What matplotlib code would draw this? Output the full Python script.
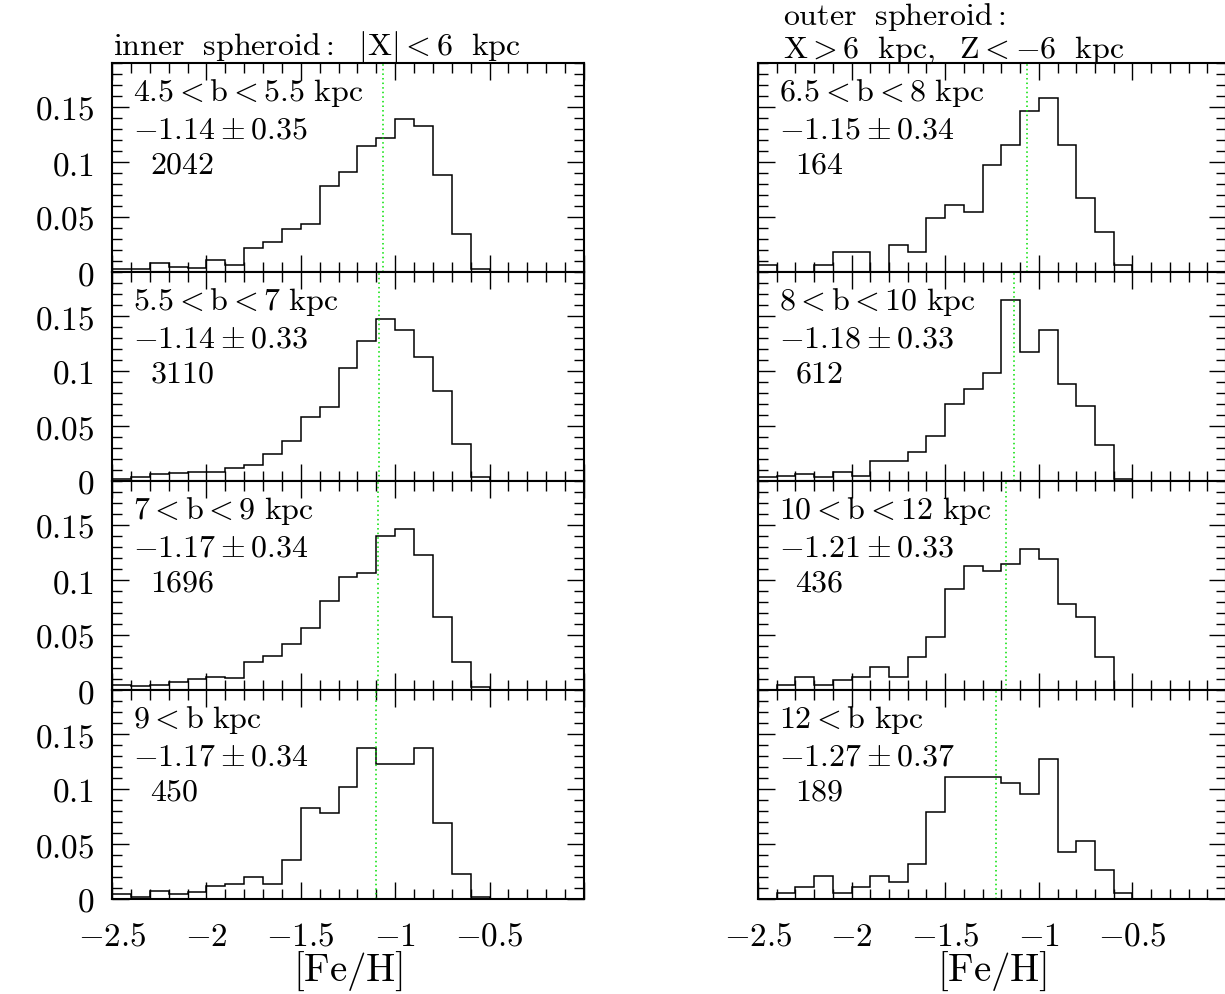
import numpy as np
import matplotlib
matplotlib.use("Agg")
import matplotlib.pyplot as plt
from matplotlib.ticker import MultipleLocator

plt.rcParams['mathtext.fontset'] = 'cm'

# ---------------- data ----------------
bin_edges = np.round(np.arange(-2.5, 0.001, 0.1), 1)   # 25 bins of 0.1 dex

# inner spheroid |X|<6 kpc (fraction of stars per 0.1 dex bin)
inner_b45_55 = [0.003, 0.003, 0.008, 0.005, 0.004, 0.011, 0.006, 0.022, 0.027, 0.039,
                0.044, 0.078, 0.091, 0.115, 0.122, 0.139, 0.133, 0.088, 0.035, 0.003,
                0, 0, 0, 0, 0]
inner_b55_7 = [0.002, 0.004, 0.006, 0.007, 0.008, 0.0085, 0.0115, 0.015, 0.025, 0.036,
               0.058, 0.067, 0.103, 0.127, 0.147, 0.137, 0.113, 0.0815, 0.0336, 0.004,
               0, 0, 0, 0, 0]
inner_b7_9 = [0.005, 0.0033, 0.005, 0.007, 0.0097, 0.0118, 0.011, 0.0255, 0.0312, 0.042,
              0.0567, 0.081, 0.103, 0.106, 0.140, 0.146, 0.1224, 0.066, 0.0258, 0.0024,
              0, 0, 0, 0, 0]
inner_b9 = [0.0045, 0.002, 0.007, 0.0045, 0.0067, 0.0115, 0.0136, 0.0197, 0.0136, 0.0355,
            0.0824, 0.0779, 0.102, 0.1376, 0.1224, 0.1224, 0.1376, 0.0688, 0.0227, 0.002,
            0, 0, 0, 0, 0]

# outer spheroid X>6 kpc, Z<-6 kpc
outer_b65_8 = [0.0061, 0, 0, 0.0061, 0.0183, 0.0183, 0, 0.0244, 0.0183, 0.0488,
               0.0610, 0.0549, 0.0976, 0.1159, 0.1463, 0.1585, 0.1159, 0.0671, 0.0366, 0.0061,
               0, 0, 0, 0, 0]
outer_b8_10 = [0.0033, 0.0049, 0.0065, 0.0033, 0.0082, 0.0049, 0.018, 0.018, 0.0261, 0.0408,
               0.0703, 0.0833, 0.098, 0.165, 0.1176, 0.1373, 0.0882, 0.0686, 0.0327, 0.0016,
               0, 0, 0, 0, 0]
outer_b10_12 = [0, 0.0046, 0.0115, 0.0046, 0.0092, 0.0115, 0.0206, 0.0115, 0.0298, 0.0482,
                0.0917, 0.1124, 0.1078, 0.1147, 0.1284, 0.1193, 0.078, 0.0665, 0.0298, 0,
                0, 0, 0, 0, 0]
outer_b12 = [0, 0.0053, 0.0106, 0.0212, 0.0053, 0.0106, 0.0212, 0.0159, 0.0317, 0.0794,
             0.1111, 0.1111, 0.1111, 0.1058, 0.0952, 0.127, 0.0423, 0.0529, 0.0265, 0.0053,
             0, 0, 0, 0, 0]

inner_series = [inner_b45_55, inner_b55_7, inner_b7_9, inner_b9]
outer_series = [outer_b65_8, outer_b8_10, outer_b10_12, outer_b12]

inner_bins = [r'4.5<b<5.5\ kpc', r'5.5<b<7\ kpc', r'7<b<9\ kpc', r'9<b\ kpc']
outer_bins = [r'6.5<b<8\ kpc', r'8<b<10\ kpc', r'10<b<12\ kpc', r'12<b\ kpc']
inner_stats = [r'-1.14\pm0.35', r'-1.14\pm0.33', r'-1.17\pm0.34', r'-1.17\pm0.34']
outer_stats = [r'-1.15\pm0.34', r'-1.18\pm0.33', r'-1.21\pm0.33', r'-1.27\pm0.37']
inner_counts = ['2042', '3110', '1696', '450']
outer_counts = ['164', '612', '436', '189']
inner_marker = [-1.065, -1.085, -1.091, -1.103]
outer_marker = [-1.061, -1.132, -1.175, -1.226]

xticks = [-2.5, -2.0, -1.5, -1.0, -0.5, 0.0]
xticklabels = [r'$-2.5$', r'$-2$', r'$-1.5$', r'$-1$', r'$-0.5$', '']
yticks = [0, 0.05, 0.1, 0.15]
yticklabels = [r'$0$', r'$0.05$', r'$0.1$', r'$0.15$']

# ---------------- layout ----------------
W, H = 1225, 994
fig = plt.figure(figsize=(W / 100, H / 100), dpi=100)

top0 = 63
ph = 209
cols = [(112, 472), (758, 468)]

TICK_FS = 24
ANN_FS = 23
TITLE_FS = 23


def make_axes(col, row):
    x0, w = cols[col]
    bottom = top0 + ph * (row + 1)
    return fig.add_axes([x0 / W, 1 - bottom / H, w / W, ph / H])


for col, (series, bins, stats, counts, marks) in enumerate(
        [(inner_series, inner_bins, inner_stats, inner_counts, inner_marker),
         (outer_series, outer_bins, outer_stats, outer_counts, outer_marker)]):
    for row in range(4):
        ax = make_axes(col, row)
        ax.stairs(series[row], bin_edges, color='black', lw=1.1, baseline=None)
        ax.axvline(marks[row], color='#00e000', ls=(0, (1, 2)), lw=1.1)
        ax.set_xlim(-2.5, 0.0)
        ax.set_ylim(0, 0.19)
        for s in ax.spines.values():
            s.set_linewidth(1.5)
        ax.xaxis.set_minor_locator(MultipleLocator(0.1))
        ax.yaxis.set_minor_locator(MultipleLocator(0.01))
        ax.tick_params(which='both', direction='in', top=True, right=True,
                       width=1.0, labelsize=TICK_FS)
        ax.tick_params(which='major', length=12)
        ax.tick_params(which='minor', length=7)
        ax.tick_params(axis='y', pad=13)
        ax.tick_params(axis='x', pad=15)
        ax.set_xticks(xticks)
        if row == 3:
            ax.set_xticklabels(xticklabels)
            ax.set_xlabel(r'$[\mathrm{Fe/H}]$', fontsize=28, labelpad=-2)
        else:
            ax.set_xticklabels([])
        ax.set_yticks(yticks)
        if col == 0:
            ax.set_yticklabels(yticklabels)
        else:
            ax.set_yticklabels([])
        ax.text(0.045, 0.856, r'$\mathrm{' + bins[row] + '}$', transform=ax.transAxes,
                fontsize=ANN_FS, va='center', ha='left')
        ax.text(0.045, 0.68, r'$' + stats[row] + '$', transform=ax.transAxes,
                fontsize=ANN_FS, va='center', ha='left')
        ax.text(0.08, 0.51, r'$' + counts[row] + '$', transform=ax.transAxes,
                fontsize=ANN_FS, va='center', ha='left')

fig.text(113 / W, 1 - 55 / H, r'$\mathrm{inner\ \ spheroid{:}\ \ |X|{<}6\ \ kpc}$',
         fontsize=TITLE_FS, ha='left', va='baseline')
fig.text(783 / W, 1 - 25 / H, r'$\mathrm{outer\ \ spheroid{:}}$',
         fontsize=TITLE_FS, ha='left', va='baseline')
fig.text(783 / W, 1 - 58 / H, r'$\mathrm{X{>}6\ \ kpc,\ \ Z{<}{-}6\ \ kpc}$',
         fontsize=TITLE_FS, ha='left', va='baseline')

fig.savefig('out.png', dpi=100)
